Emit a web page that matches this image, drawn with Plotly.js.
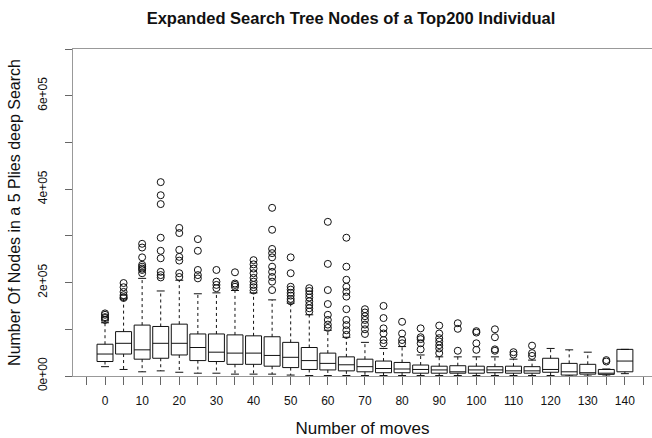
<!DOCTYPE html>
<html>
<head>
<meta charset="utf-8">
<script src="https://cdn.plot.ly/plotly-3.0.1.min.js"></script>
<style>html,body{margin:0;padding:0;background:#fff;}#chart{width:652px;height:438px;}</style>
</head>
<body>
<div id="chart"></div>
<script>
// Number of moves (box positions)
const moves = [0,5,10,15,20,25,30,35,40,45,50,55,60,65,70,75,80,85,90,95,100,105,110,115,120,125,130,135,140];
// Box statistics (nodes)
const q1     = [31000,47000,36000,38000,45000,33000,31000,25000,25000,21000,18000,14000,13000,11000,9000,7000,7000,6000,6000,6000,6000,7000,6000,6000,8000,2000,4000,3500,9000];
const median = [47000,70000,56000,70000,70000,61000,51000,49000,49000,44000,40000,33000,27000,24000,20000,16000,15000,14000,13000,9000,13000,13000,11000,11000,14000,9000,7000,6000,32000];
const q3     = [68000,95000,109000,106000,111000,90000,90000,88000,86000,84000,72000,61000,49000,41000,36000,32000,29000,23500,21000,22000,21000,20000,21000,20000,38000,27000,25000,14000,57000];
const lowerWhisker = [20000,14000,9000,11000,8000,6000,6000,4000,4000,4000,2000,1000,1000,1000,1000,1000,1000,1000,1000,1000,1000,1000,1000,1000,1000,0,0,0,5000];
const upperWhisker = [114000,165000,209000,182000,205000,176000,178000,183000,178000,163000,156000,131000,98000,83000,72000,59000,63000,45000,41000,41000,41000,41000,36000,34000,59000,56000,51000,15000,57000];
// Outliers per box (nodes)
const outliers = [
  [134000,131000,126000,124000,120000],
  [199000,190000,180000,173000,169000,167000],
  [283000,275000,254000,238000,234000,230000,227000,220000],
  [415000,387000,368000,296000,268000,252000,223000,216000,211000],
  [317000,306000,270000,255000,247000,220000,212000],
  [293000,268000,227000,216000,209000],
  [227000,202000,195000,188000],
  [222000,198000,195000,191000],
  [248000,239000,230000,220000,210000,202000,195000,190000,183000],
  [360000,313000,272000,263000,254000,234000,223000,212000,202000,184000],
  [254000,220000,191000,185000,178000,172000,165000,160000],
  [188000,182000,175000,168000,160000,152000,145000,138000],
  [330000,240000,184000,154000,131000,120000,110000,103000],
  [296000,234000,206000,191000,180000,170000,143000,120000,109000,98000,88000],
  [143000,136000,128000,120000,110000,100000,90000],
  [150000,124000,102000,91000,77000,70000],
  [116000,91000,77000,70000],
  [102000,83000,79000,70000,57000],
  [108000,91000,81000,74000,66000,59000,49000],
  [113000,101000,54000],
  [96000,93000,70000,56000],
  [100000,83000,57000,54000],
  [51000,46000],
  [65000,49000,43000],
  [],
  [],
  [],
  [34000,31000],
  []
];
const xTickVals = [0,10,20,30,40,50,60,70,80,90,100,110,120,130,140];
const yTickVals = [0,200000,400000,600000];
const yTickText = ["0e+00","2e+05","4e+05","6e+05"];

const boxW = 4.3;
const stapleHalf = boxW / 4;

// whiskers (dashed)
const wx = [], wy = [];
// staples (solid)
const sx = [], sy = [];
moves.forEach((m, i) => {
  wx.push(m, m, null, m, m, null);
  wy.push(q3[i], upperWhisker[i], null, q1[i], lowerWhisker[i], null);
  sx.push(m - stapleHalf, m + stapleHalf, null, m - stapleHalf, m + stapleHalf, null);
  sy.push(upperWhisker[i], upperWhisker[i], null, lowerWhisker[i], lowerWhisker[i], null);
});
const ox = [], oy = [];
outliers.forEach((arr, i) => arr.forEach(v => { ox.push(moves[i]); oy.push(v); }));

const ink = '#111';
const traces = [
  {type:'scatter', mode:'lines', x:wx, y:wy, line:{color:ink, width:1, dash:'3px,3px'}, hoverinfo:'skip', showlegend:false},
  {type:'scatter', mode:'lines', x:sx, y:sy, line:{color:ink, width:1}, hoverinfo:'skip', showlegend:false},
  {type:'box', x:moves, q1:q1, median:median, q3:q3, lowerfence:q1, upperfence:q3,
   width:boxW, whiskerwidth:0, boxpoints:false, fillcolor:'rgba(255,255,255,0)',
   line:{color:ink, width:1}, showlegend:false},
  {type:'scatter', mode:'markers', x:ox, y:oy,
   marker:{symbol:'circle-open', size:7, color:ink, line:{width:1, color:ink}}, showlegend:false}
];

const layout = {
  width:652, height:438,
  margin:{l:73, r:0, t:49, b:62},
  paper_bgcolor:'#fff', plot_bgcolor:'#fff',
  font:{family:'"Liberation Sans", Arial, sans-serif', color:'#111', size:12},
  title:{text:'<b>Expanded Search Tree Nodes of a Top200 Individual</b>', font:{size:16.5, color:'#111'},
         x:351/652, xref:'container', xanchor:'center', y:1-18/438, yref:'container', yanchor:'middle'},
  xaxis:{range:[-8.62,147.3], tickvals:xTickVals, ticks:'outside', ticklen:8, tickcolor:'#666', tickwidth:1,
         showline:true, linecolor:'#999', linewidth:1, mirror:true, showgrid:false, zeroline:false,
         tickfont:{size:12, color:'#111'}, ticklabelstandoff:6,
         minor:{dtick:5, tick0:0, ticks:'outside', ticklen:8, tickcolor:'#666', tickwidth:1, showgrid:false},
         title:{text:'Number of moves', font:{size:17, color:'#111'}, standoff:15}},
  yaxis:{range:[0,700000], tickvals:yTickVals, ticktext:yTickText, tickangle:-90, ticks:'outside', ticklen:7,
         tickcolor:'#666', tickwidth:1, showline:true, linecolor:'#999', linewidth:1, showgrid:false, zeroline:false,
         tickfont:{size:12, color:'#111'}, ticklabelstandoff:13,
         minor:{dtick:100000, tick0:0, ticks:'outside', ticklen:7, tickcolor:'#666', tickwidth:1, showgrid:false},
         title:{text:'Number Of Nodes in a 5 Plies deep Search', font:{size:16, color:'#111'}, standoff:11}}
};
Plotly.newPlot('chart', traces, layout, {displayModeBar:false, staticPlot:true});
</script>
</body>
</html>
